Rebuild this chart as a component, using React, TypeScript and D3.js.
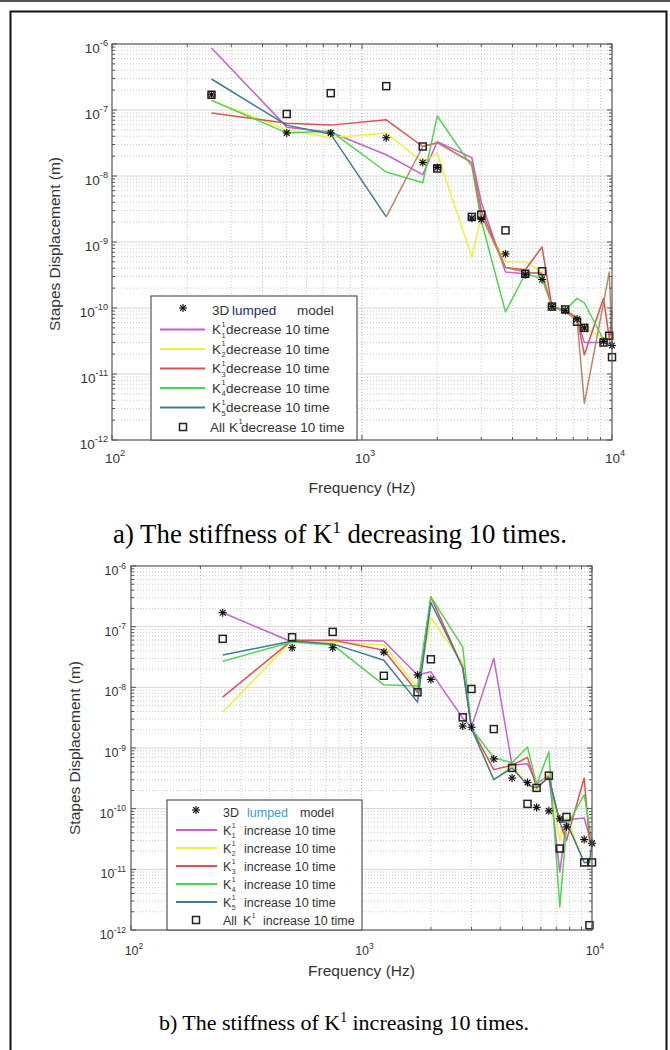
import React from 'react';
import * as d3 from 'd3';

// ---------- DATA ----------
const FREQS = [250, 500, 750, 1250, 1750, 2000, 2750, 3000, 3750, 4500, 5250, 5750, 6500, 7250, 7750, 9250, 9750, 10000];

const MODEL = [1.7e-7, 4.5e-8, 4.5e-8, 3.8e-8, 1.6e-8, 1.35e-8, 2.3e-9, 2.2e-9, 6.6e-10, 3.2e-10, 2.7e-10, 1.05e-10, 9.2e-11, 6.8e-11, 5e-11, 3.1e-11, null, 2.7e-11];

const DEC_ALL = [1.7e-7, 8.7e-8, 1.8e-7, 2.3e-7, 2.8e-8, 1.3e-8, 2.4e-9, 2.6e-9, 1.5e-9, 3.3e-10, 3.6e-10, 1.05e-10, 9.5e-11, 6.2e-11, 5e-11, 3e-11, 3.8e-11, 1.8e-11];
const DEC_K1 = [8.7e-7, 5.5e-8, 4.6e-8, 2.1e-8, 1.05e-8, 3.3e-8, 1.9e-8, 4e-9, 3.5e-10, 3.3e-10, 3.5e-10, 1.05e-10, 9e-11, 6.6e-11, 3e-11, 3e-11, 2.8e-11, 9e-11];
const DEC_K2 = [1.4e-7, 5e-8, 3.8e-8, 4.5e-8, 1.6e-8, 2.2e-8, 5.9e-10, 2.4e-9, 5e-10, 5e-10, 3.5e-10, 1.05e-10, 9e-11, 6.6e-11, 5e-11, 3.5e-11, 3.5e-11, 3.8e-11];
const DEC_K3 = [9e-8, 6.3e-8, 5.9e-8, 7.1e-8, 2.8e-8, 3.2e-8, 1.6e-8, 3e-9, 4.1e-10, 3.8e-10, 8.4e-10, 1.05e-10, 9.3e-11, 7.1e-11, 1.95e-11, 1.4e-10, 3.5e-11, 3.3e-11];
const DEC_K4 = [1.4e-7, 4.5e-8, 4.8e-8, 1.15e-8, 7.9e-9, 8.1e-8, 1.4e-8, 2.1e-9, 8.7e-11, 3.3e-10, 2.8e-10, 1.05e-10, 9.3e-11, 1.4e-10, 1.2e-10, 3.3e-11, 2.8e-11, 2.6e-11];
const DEC_K5 = [2.95e-7, 5.9e-8, 4.3e-8, 2.4e-9, 2.8e-8, 3.2e-8, 1.6e-8, 2.5e-9, 4.1e-10, 3.5e-10, 3.3e-10, 1.05e-10, 8.7e-11, 6.6e-11, 3.6e-12, 1.2e-10, 3.5e-10, 3e-11];

const INC_ALL = [6.3e-8, 6.7e-8, 8.2e-8, 1.55e-8, 8.3e-9, 2.9e-8, 3.2e-9, 9.4e-9, 2.05e-9, 4.7e-10, 1.2e-10, 2.2e-10, 3.5e-10, 2.2e-11, 7.3e-11, 1.3e-11, 1.2e-12, 1.3e-11];
const INC_K1 = [1.7e-7, 5.6e-8, 6e-8, 5.8e-8, 1.6e-8, 1.8e-8, 3.1e-9, 2.2e-9, 3e-8, 5.2e-10, 5.5e-10, 2.6e-10, 3.5e-10, 9e-12, 6.5e-11, 7e-11, 3.5e-11, 2.7e-11];
const INC_K2 = [3.9e-9, 6e-8, 5.6e-8, 5e-8, 9.7e-9, 1.4e-7, 2.5e-8, 2.2e-9, 3e-10, 5.2e-10, 2.45e-10, 2e-10, 4e-10, 3e-11, 7.3e-11, 1.3e-11, 1.3e-11, 1.3e-11];
const INC_K3 = [6.9e-9, 6e-8, 6e-8, 4.1e-8, 8.3e-9, 3.1e-7, 2.1e-8, 2.1e-9, 4.4e-10, 5.2e-10, 7e-10, 2.2e-10, 3.3e-10, 6e-11, 3e-11, 3.2e-10, 3e-11, 2.7e-11];
const INC_K4 = [2.7e-8, 5.6e-8, 5e-8, 1.1e-8, 1.05e-8, 3.1e-7, 4.6e-8, 2.1e-9, 6.9e-10, 5.7e-10, 1.04e-9, 2.5e-10, 8.7e-10, 2.4e-12, 5e-11, 1.7e-10, 5e-11, 2.7e-11];
const INC_K5 = [3.4e-8, 5.8e-8, 5.2e-8, 2.8e-8, 5.7e-9, 2.5e-7, 2.1e-8, 2.1e-9, 3e-10, 4.7e-10, 2.45e-10, 2.2e-10, 3.3e-10, 6e-11, 6e-11, 1.3e-11, 1.3e-11, 2.7e-11];

const Y_EXPONENTS = [-6, -7, -8, -9, -10, -11, -12];
const X_EXPONENTS = [2, 3, 4];
const K_INDEX = ['1', '2', '3', '4', '5'];

const MODEL_LABEL = ['3D', 'lumped', 'model'];
const CAPTION_A = ['a) The stiffness of K', '1', ' decreasing 10 times.'];
const CAPTION_B = ['b) The stiffness of K', '1', ' increasing 10 times.'];
const Y_TITLE = 'Stapes Displacement (m)';
const X_TITLE = 'Frequency (Hz)';

// ---------- STYLE ----------
const COLORS = ['#c860d0', '#f0f03a', '#d9534f', '#52d352', '#3d7d96'];
const BROWN = '#b8876a';
const SANS = 'Arial, "Liberation Sans", Helvetica, sans-serif';
const SERIF = '"Times New Roman", "Liberation Serif", serif';

type Val = number | null;

function Star({ x, y, r }: { x: number; y: number; r: number }) {
  const d = r * 0.72;
  return (
    <g stroke="#111" strokeWidth={1.2}>
      <line x1={x - r} y1={y} x2={x + r} y2={y} />
      <line x1={x} y1={y - r} x2={x} y2={y + r} />
      <line x1={x - d} y1={y - d} x2={x + d} y2={y + d} />
      <line x1={x - d} y1={y + d} x2={x + d} y2={y - d} />
    </g>
  );
}

function Square({ x, y, s }: { x: number; y: number; s: number }) {
  return <rect x={x - s / 2} y={y - s / 2} width={s} height={s} fill="none" stroke="#222" strokeWidth={1.5} />;
}

interface PanelProps {
  box: { x0: number; x1: number; y0: number; y1: number };
  lines: Val[][];
  all: Val[];
  splitTail: boolean;
  tickFs: number;
  titleFs: number;
  yTitle: { x: number; y: number };
  xTitleY: number;
  xTickY: number;
  yTickRight: number;
  legend: {
    x0: number; x1: number; y0: number; rowH: number; firstRow: number;
    markX: number; lineX0: number; lineX1: number; textX: number; restX: number;
    allTextX: number; allKX: number; allRestX: number; fs: number;
    word: string; modelX: [number, number, number]; lumpColor: string;
  };
}

function Panel(p: PanelProps) {
  const { box } = p;
  const x = d3.scaleLog().domain([100, 10000]).range([box.x0, box.x1]);
  const y = d3.scaleLog().domain([1e-12, 1e-6]).range([box.y1, box.y0]);

  const xMinor: number[] = [];
  [100, 1000].forEach((dec) => d3.range(2, 10).forEach((m) => xMinor.push(m * dec)));
  const yMinor: number[] = [];
  d3.range(-12, -6).forEach((e) => d3.range(2, 10).forEach((m) => yMinor.push(m * Math.pow(10, e))));

  const line = d3
    .line<[number, Val]>()
    .defined((d) => d[1] != null)
    .x((d) => x(d[0]))
    .y((d) => y(d[1] as number));

  const pts = (vals: Val[]) => FREQS.map((f, i) => [f, vals[i]] as [number, Val]);

  const L = p.legend;
  const rows = d3.range(7).map((i) => L.firstRow + i * L.rowH);

  return (
    <g>
      {/* minor grid */}
      <g stroke="#bdbdbd" strokeWidth={0.8} strokeDasharray="1 2">
        {xMinor.map((v) => (
          <line key={'xm' + v} x1={x(v)} x2={x(v)} y1={box.y0} y2={box.y1} />
        ))}
        {yMinor.map((v, i) => (
          <line key={'ym' + i} x1={box.x0} x2={box.x1} y1={y(v)} y2={y(v)} />
        ))}
      </g>
      {/* major grid */}
      <g stroke="#d6d6d6" strokeWidth={1}>
        {X_EXPONENTS.slice(1, 2).map((e) => (
          <line key={'xM' + e} x1={x(Math.pow(10, e))} x2={x(Math.pow(10, e))} y1={box.y0} y2={box.y1} strokeDasharray="1 2" stroke="#a8a8a8" />
        ))}
        {Y_EXPONENTS.slice(1, 6).map((e) => (
          <line key={'yM' + e} x1={box.x0} x2={box.x1} y1={y(Math.pow(10, e))} y2={y(Math.pow(10, e))} />
        ))}
      </g>

      {/* series lines */}
      <g fill="none" strokeWidth={1.5} strokeLinejoin="round">
        {p.lines.map((vals, i) => {
          const data = pts(vals);
          if (i === 4 && p.splitTail) {
            return (
              <g key={'l' + i}>
                <path d={line(data.slice(0, 4)) || ''} stroke={COLORS[i]} />
                <path d={line(data.slice(3)) || ''} stroke={BROWN} />
              </g>
            );
          }
          return <path key={'l' + i} d={line(data) || ''} stroke={COLORS[i]} />;
        })}
      </g>

      {/* markers */}
      {FREQS.map((f, i) =>
        p.all[i] != null ? <Square key={'s' + i} x={x(f)} y={y(p.all[i] as number)} s={7} /> : null
      )}
      {FREQS.map((f, i) =>
        MODEL[i] != null ? <Star key={'st' + i} x={x(f)} y={y(MODEL[i] as number)} r={4} /> : null
      )}

      {/* axes box */}
      <rect x={box.x0} y={box.y0} width={box.x1 - box.x0} height={box.y1 - box.y0} fill="none" stroke="#555" strokeWidth={1.2} />
      {/* ticks */}
      <g stroke="#555" strokeWidth={1}>
        {xMinor.map((v) => (
          <g key={'xt' + v}>
            <line x1={x(v)} x2={x(v)} y1={box.y1} y2={box.y1 - 3} />
            <line x1={x(v)} x2={x(v)} y1={box.y0} y2={box.y0 + 3} />
          </g>
        ))}
        {X_EXPONENTS.map((e) => (
          <g key={'xT' + e}>
            <line x1={x(Math.pow(10, e))} x2={x(Math.pow(10, e))} y1={box.y1} y2={box.y1 - 5} />
            <line x1={x(Math.pow(10, e))} x2={x(Math.pow(10, e))} y1={box.y0} y2={box.y0 + 5} />
          </g>
        ))}
        {yMinor.map((v, i) => (
          <g key={'yt' + i}>
            <line x1={box.x0} x2={box.x0 + 3} y1={y(v)} y2={y(v)} />
            <line x1={box.x1} x2={box.x1 - 3} y1={y(v)} y2={y(v)} />
          </g>
        ))}
        {Y_EXPONENTS.map((e) => (
          <g key={'yT' + e}>
            <line x1={box.x0} x2={box.x0 + 5} y1={y(Math.pow(10, e))} y2={y(Math.pow(10, e))} />
            <line x1={box.x1} x2={box.x1 - 5} y1={y(Math.pow(10, e))} y2={y(Math.pow(10, e))} />
          </g>
        ))}
      </g>

      {/* tick labels */}
      <g fontFamily={SANS} fill="#333" fontSize={p.tickFs}>
        {Y_EXPONENTS.map((e) => (
          <text key={'yl' + e} x={p.yTickRight} y={y(Math.pow(10, e)) + 9} textAnchor="end">
            10<tspan dy={-p.tickFs * 0.5} fontSize={p.tickFs * 0.68}>{e}</tspan>
          </text>
        ))}
        {X_EXPONENTS.map((e) => (
          <text key={'xl' + e} x={x(Math.pow(10, e)) + 3} y={p.xTickY} textAnchor="middle">
            10<tspan dy={-p.tickFs * 0.5} fontSize={p.tickFs * 0.68}>{e}</tspan>
          </text>
        ))}
      </g>
      {/* axis titles */}
      <text x={(box.x0 + box.x1) / 2} y={p.xTitleY} textAnchor="middle" fontFamily={SANS} fontSize={p.titleFs} fill="#333">
        {X_TITLE}
      </text>
      <text
        transform={`translate(${p.yTitle.x},${p.yTitle.y}) rotate(-90)`}
        textAnchor="middle"
        fontFamily={SANS}
        fontSize={p.titleFs}
        fill="#333"
      >
        {Y_TITLE}
      </text>

      {/* legend */}
      <g fontFamily={SANS} fontSize={L.fs} fill="#333">
        <rect x={L.x0} y={L.y0} width={L.x1 - L.x0} height={box.y1 - L.y0} fill="#fff" stroke="#555" strokeWidth={1.2} />
        <Star x={L.markX} y={rows[0] - 2} r={4} />
        <text x={L.modelX[0]} y={rows[0] + L.fs * 0.36}>{MODEL_LABEL[0]}</text>
        <text x={L.modelX[1]} y={rows[0] + L.fs * 0.36} fill={L.lumpColor}>{MODEL_LABEL[1]}</text>
        <text x={L.modelX[2]} y={rows[0] + L.fs * 0.36}>{MODEL_LABEL[2]}</text>
        {K_INDEX.map((k, i) => {
          const ry = rows[i + 1];
          const kw = L.fs * 0.667;
          return (
            <g key={'lg' + k}>
              <line x1={L.lineX0} x2={L.lineX1} y1={ry} y2={ry} stroke={COLORS[i]} strokeWidth={1.8} />
              <text x={L.textX} y={ry + L.fs * 0.36}>K</text>
              <text x={L.textX + kw + 0.5} y={ry - L.fs * 0.2} fontSize={L.fs * 0.55}>1</text>
              <text x={L.textX + kw + 0.5} y={ry + L.fs * 0.6} fontSize={L.fs * 0.55}>{k}</text>
              <text x={L.restX} y={ry + L.fs * 0.36}>{L.word} 10 time</text>
            </g>
          );
        })}
        <Square x={L.markX} y={rows[6]} s={7} />
        <text x={L.allTextX} y={rows[6] + L.fs * 0.36}>All</text>
        <text x={L.allKX} y={rows[6] + L.fs * 0.36}>K</text>
        <text x={L.allKX + L.fs * 0.667 + 0.5} y={rows[6] - L.fs * 0.2} fontSize={L.fs * 0.55}>1</text>
        <text x={L.allRestX} y={rows[6] + L.fs * 0.36}>{L.word} 10 time</text>
      </g>
    </g>
  );
}

function Caption({ x, y, fs, parts }: { x: number; y: number; fs: number; parts: string[] }) {
  return (
    <text x={x} y={y} textAnchor="middle" fontFamily={SERIF} fontSize={fs} fill="#000">
      {parts[0]}
      <tspan dy={-fs * 0.38} fontSize={fs * 0.62}>{parts[1]}</tspan>
      <tspan dy={fs * 0.38}>{parts[2]}</tspan>
    </text>
  );
}

export default function App() {
  return (
    <svg width={670} height={1050} style={{ position: 'fixed', left: 0, top: 0, background: '#fff' }}>
      <rect x={0} y={0} width={670} height={1050} fill="#fff" />
      {/* page frame */}
      <rect x={0} y={0} width={670} height={2} fill="#555" />
      <path d="M10.5,1050 L10.5,11.5 L666.5,11.5 L666.5,1050" fill="none" stroke="#111" strokeWidth={2} />

      <Panel
        box={{ x0: 112, x1: 612, y0: 44, y1: 440 }}
        lines={[DEC_K1, DEC_K2, DEC_K3, DEC_K4, DEC_K5]}
        all={DEC_ALL}
        splitTail={true}
        tickFs={13.5}
        titleFs={15.5}
        yTitle={{ x: 60, y: 244 }}
        xTitleY={493}
        xTickY={463}
        yTickRight={108}
        legend={{
          x0: 151, x1: 357, y0: 296, rowH: 19.5, firstRow: 310,
          markX: 183, lineX0: 160, lineX1: 205, textX: 212, restX: 226,
          allTextX: 210, allKX: 229, allRestX: 241, fs: 13.5,
          word: 'decrease', modelX: [212, 232, 297], lumpColor: '#1d2a6a',
        }}
      />
      <Caption x={340} y={543} fs={26.8} parts={CAPTION_A} />

      <Panel
        box={{ x0: 131, x1: 592, y0: 566, y1: 930 }}
        lines={[INC_K1, INC_K2, INC_K3, INC_K4, INC_K5]}
        all={INC_ALL}
        splitTail={false}
        tickFs={12.5}
        titleFs={15.5}
        yTitle={{ x: 80, y: 748 }}
        xTitleY={976}
        xTickY={955}
        yTickRight={126}
        legend={{
          x0: 167, x1: 362, y0: 800, rowH: 18, firstRow: 812,
          markX: 196, lineX0: 176, lineX1: 217, textX: 223, restX: 244,
          allTextX: 223, allKX: 243, allRestX: 263, fs: 12.5,
          word: 'increase', modelX: [223, 247, 300], lumpColor: '#3d9be0',
        }}
      />
      <Caption x={344} y={1030} fs={22} parts={CAPTION_B} />
    </svg>
  );
}
